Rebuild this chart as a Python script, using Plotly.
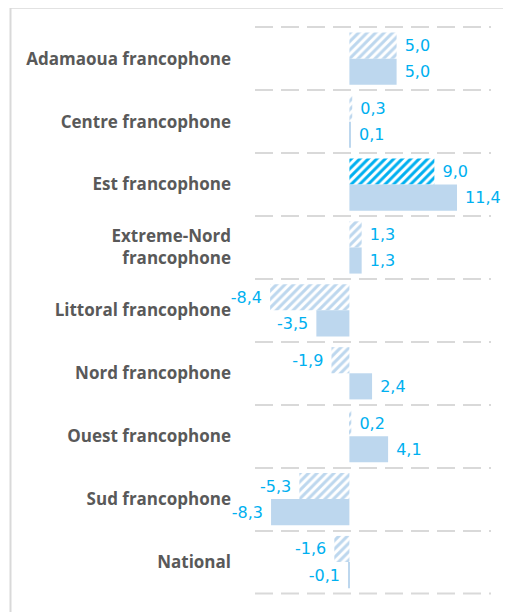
import plotly.graph_objects as go

categories = [
    "Adamaoua francophone",
    "Centre francophone",
    "Est francophone",
    "Extreme-Nord<br>francophone",
    "Littoral francophone",
    "Nord francophone",
    "Ouest francophone",
    "Sud francophone",
    "National",
]
hatched_values = [5.0, 0.3, 9.0, 1.3, -8.4, -1.9, 0.2, -5.3, -1.6]
solid_values = [5.0, 0.1, 11.4, 1.3, -3.5, 2.4, 4.1, -8.3, -0.1]

LIGHT = "#BDD7EE"
BRIGHT = "#00B0F0"
LABEL = "#00B0F0"
GRID = "#D9D9D9"
hatched_colors = [BRIGHT if c == "Est francophone" else LIGHT for c in categories]


def templates(vals):
    return [" %{x:.1f}" if v >= 0 else "%{x:.1f} " for v in vals]


fig = go.Figure()
fig.add_trace(go.Bar(
    y=categories, x=hatched_values, orientation="h",
    marker=dict(color="white", line=dict(width=0),
                pattern=dict(shape="/", fgcolor=hatched_colors, bgcolor="white",
                             size=6, solidity=0.5, fillmode="replace")),
    texttemplate=templates(hatched_values), textposition="outside",
    textfont=dict(family="DejaVu Sans", size=16, color=LABEL),
    cliponaxis=False, constraintext="none", showlegend=False,
))
fig.add_trace(go.Bar(
    y=categories, x=solid_values, orientation="h",
    marker=dict(color=LIGHT, line=dict(width=0)),
    texttemplate=templates(solid_values), textposition="outside",
    textfont=dict(family="DejaVu Sans", size=16, color=LABEL),
    cliponaxis=False, constraintext="none", showlegend=False,
))

# page body has an 8px margin: figure sized/offset to compensate
fig.update_layout(
    width=503, height=604,
    margin=dict(l=247, r=20, t=18, b=16),
    paper_bgcolor="white", plot_bgcolor="white",
    barmode="group", bargap=0.17, bargroupgap=0,
    separators=", ",
    xaxis=dict(range=[-10, 15], showgrid=False, zeroline=False,
               showticklabels=False, showline=False, ticks=""),
    yaxis=dict(type="category", range=[8.54, -0.52], tickson="boundaries",
               showgrid=True, gridcolor=GRID, gridwidth=2,
               griddash="18px,8px", zeroline=False, showline=False, ticks="",
               ticklabelstandoff=23,
               tickfont=dict(family="Open Sans", size=17, color="#595959",
                             weight="bold")),
    shapes=[
        dict(type="rect", xref="paper", yref="paper",
             x0=-1.036, x1=1.2, y0=-0.1, y1=1.032,
             line=dict(color=GRID, width=2), layer="below"),
        dict(type="line", xref="paper", yref="y",
             x0=0, x1=1, y0=len(categories) - 0.5, y1=len(categories) - 0.5,
             line=dict(color=GRID, width=2, dash="18px,8px"), layer="below"),
    ],
)

fig.write_html("out.html")
